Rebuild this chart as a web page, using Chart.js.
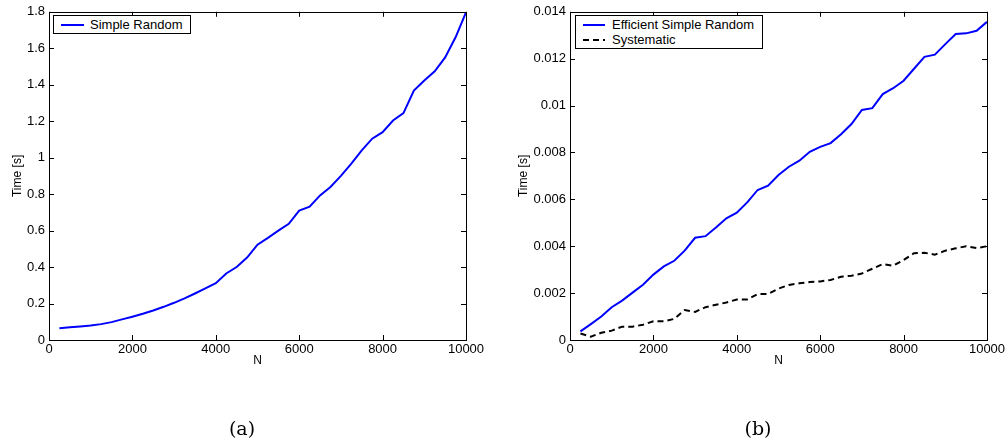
<!DOCTYPE html>
<html>
<head>
<meta charset="utf-8">
<script src="https://cdn.jsdelivr.net/npm/chart.js@4"></script>
<style>
  body { margin: 0; background: #fff; width: 1008px; height: 441px; position: relative; overflow: hidden; font-family: "Liberation Sans", Arial, sans-serif; }
  .wrap { position: absolute; top: 0; height: 441px; }
  .legend { position: absolute; border: 1px solid #000; background: #fff; box-sizing: border-box; font-size: 13px; color: #000; }
  .row { position: absolute; left: 0; height: 15px; line-height: 15px; white-space: nowrap; }
  .row svg { position: absolute; top: 0; }
  .row span { position: absolute; }
  .caption { position: absolute; font-family: "DejaVu Serif", "Liberation Serif", serif; font-size: 19px; transform: translate(-50%, -50%); }
</style>
</head>
<body>
<div class="wrap" style="left:0;width:500px"><canvas id="chartA"></canvas></div>
<div class="wrap" style="left:500px;width:508px"><canvas id="chartB"></canvas></div>

<div class="legend" style="left:53px;top:15px;width:138px;height:19px">
  <div class="row" style="top:1px">
    <svg width="40" height="15" style="left:0"><line x1="7" y1="8" x2="30" y2="8" stroke="#0000ff" stroke-width="2"/></svg>
    <span style="left:36px">Simple Random</span>
  </div>
</div>
<div class="legend" style="left:575px;top:15px;width:188px;height:34px">
  <div class="row" style="top:1px">
    <svg width="40" height="15" style="left:0"><line x1="7" y1="8" x2="29" y2="8" stroke="#0000ff" stroke-width="2"/></svg>
    <span style="left:36px">Efficient Simple Random</span>
  </div>
  <div class="row" style="top:16px">
    <svg width="40" height="15" style="left:0"><line x1="7" y1="8" x2="29" y2="8" stroke="#000" stroke-width="2" stroke-dasharray="6,4"/></svg>
    <span style="left:36px">Systematic</span>
  </div>
</div>

<div class="caption" style="left:242px;top:428px">(a)</div>
<div class="caption" style="left:758px;top:428px">(b)</div>

<script>
const nValues = [250, 500, 750, 1000, 1250, 1500, 1750, 2000, 2250, 2500,
  2750, 3000, 3250, 3500, 3750, 4000, 4250, 4500, 4750, 5000,
  5250, 5500, 5750, 6000, 6250, 6500, 6750, 7000, 7250, 7500,
  7750, 8000, 8250, 8500, 8750, 9000, 9250, 9500, 9750, 10000];

const simpleRandom = [0.065, 0.07, 0.074, 0.079, 0.087, 0.098, 0.113, 0.128, 0.144, 0.162,
  0.182, 0.204, 0.228, 0.255, 0.283, 0.312, 0.365, 0.40, 0.452, 0.523,
  0.56, 0.60, 0.637, 0.71, 0.731, 0.793, 0.839, 0.90, 0.967, 1.04,
  1.104, 1.14, 1.204, 1.244, 1.368, 1.423, 1.474, 1.55, 1.66, 1.797];

const efficientSimpleRandom = [0.00037, 0.00068, 0.001, 0.0014, 0.00168, 0.00202, 0.00236, 0.00279, 0.00314, 0.00338,
  0.00381, 0.00436, 0.00443, 0.0048, 0.00519, 0.00543, 0.00587, 0.0064, 0.00658, 0.00704,
  0.00739, 0.00765, 0.00803, 0.00824, 0.0084, 0.00878, 0.00921, 0.00981, 0.00989, 0.01049,
  0.01074, 0.01106, 0.01157, 0.01208, 0.01217, 0.01262, 0.01305, 0.01308, 0.01319, 0.01357];

const systematic = [0.00028, 0.00014, 0.00031, 0.0004, 0.00057, 0.00057, 0.00065, 0.0008, 0.0008, 0.0009,
  0.00128, 0.0012, 0.0014, 0.0015, 0.0016, 0.00173, 0.00173, 0.00196, 0.00196, 0.00219,
  0.00235, 0.00242, 0.00247, 0.0025, 0.00256, 0.0027, 0.00274, 0.00284, 0.00304, 0.00324,
  0.00317, 0.00341, 0.0037, 0.00372, 0.00364, 0.00381, 0.00391, 0.004, 0.00392, 0.004];

const xTicks = [0, 2000, 4000, 6000, 8000, 10000];
const yTicksA = [0, 0.2, 0.4, 0.6, 0.8, 1, 1.2, 1.4, 1.6, 1.8];
const yTicksB = [0, 0.002, 0.004, 0.006, 0.008, 0.01, 0.012, 0.014];

const font = { family: "'Liberation Sans', Arial, sans-serif", size: 13 };
const titleFont = { family: "'Liberation Sans', Arial, sans-serif", size: 12 };

// matlab style box with inward ticks
const boxPlugin = {
  id: "box",
  afterDraw(chart) {
    const { ctx, chartArea: a, scales } = chart;
    ctx.save();
    ctx.strokeStyle = "#000";
    ctx.lineWidth = 1;
    ctx.beginPath();
    for (const t of scales.x.ticks) {
      const px = Math.round(scales.x.getPixelForValue(t.value)) + 0.5;
      ctx.moveTo(px, a.bottom); ctx.lineTo(px, a.bottom - 5);
      ctx.moveTo(px, a.top); ctx.lineTo(px, a.top + 5);
    }
    for (const t of scales.y.ticks) {
      const py = Math.round(scales.y.getPixelForValue(t.value)) + 0.5;
      ctx.moveTo(a.left, py); ctx.lineTo(a.left + 5, py);
      ctx.moveTo(a.right, py); ctx.lineTo(a.right - 5, py);
    }
    ctx.stroke();
    ctx.strokeRect(Math.round(a.left) + 0.5, Math.round(a.top) + 0.5,
      Math.round(a.right - a.left), Math.round(a.bottom - a.top));
    ctx.restore();
  },
};

function points(ys) {
  return nValues.map((n, i) => ({ x: n, y: ys[i] }));
}

function makeChart(id, datasets, yTicks, yMax, yWidth, titlePad, padRight) {
  return new Chart(document.getElementById(id), {
    type: "line",
    data: { datasets: datasets },
    options: {
      responsive: false,
      animation: false,
      layout: { padding: { top: 11, left: 0, right: padRight, bottom: 71 } },
      plugins: { legend: { display: false }, tooltip: { enabled: false } },
      elements: { point: { radius: 0 }, line: { tension: 0 } },
      scales: {
        x: {
          type: "linear",
          min: 0,
          max: 10000,
          afterBuildTicks: (s) => { s.ticks = xTicks.map((v) => ({ value: v })); },
          afterFit: (s) => { s.height = 30; },
          grid: { display: false, drawTicks: false },
          border: { display: false },
          ticks: { font: font, color: "#000", padding: 2, maxRotation: 0, callback: (v) => String(v) },
          title: { display: true, text: "N", font: titleFont, color: "#000", padding: { top: 0, bottom: 2 } },
        },
        y: {
          min: 0,
          max: yMax,
          afterBuildTicks: (s) => { s.ticks = yTicks.map((v) => ({ value: v })); },
          afterFit: (s) => { s.width = yWidth; },
          grid: { display: false, drawTicks: false },
          border: { display: false },
          ticks: { font: font, color: "#000", padding: 4, callback: (v) => String(v) },
          title: { display: true, text: "Time [s]", font: titleFont, color: "#000", padding: { top: titlePad, bottom: 0 } },
        },
      },
    },
    plugins: [boxPlugin],
  });
}

const cA = document.getElementById("chartA");
cA.width = 500; cA.height = 441;
const cB = document.getElementById("chartB");
cB.width = 508; cB.height = 441;

makeChart("chartA", [
  { label: "Simple Random", data: points(simpleRandom), borderColor: "#0000ff", borderWidth: 2 },
], yTicksA, 1.8, 49, 10, 34);

makeChart("chartB", [
  { label: "Efficient Simple Random", data: points(efficientSimpleRandom), borderColor: "#0000ff", borderWidth: 2 },
  { label: "Systematic", data: points(systematic), borderColor: "#000", borderWidth: 2, borderDash: [6, 4] },
], yTicksB, 0.014, 70, 16, 21);
</script>
</body>
</html>
